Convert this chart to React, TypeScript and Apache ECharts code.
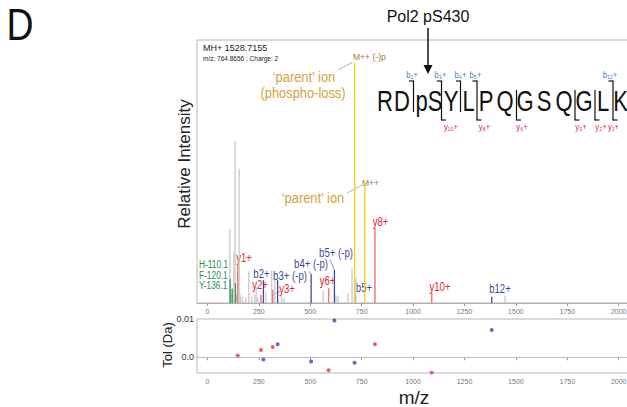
import React, { useEffect, useRef } from "react";
import * as echarts from "echarts";

// ---------- data ----------
const xTicks = [0, 250, 500, 750, 1000, 1250, 1500, 1750, 2000];

// unassigned peaks (m/z, relative intensity %)
const grayMz = [108.5, 115, 124, 128, 134, 140, 154, 160, 170, 185, 201, 215, 229, 237, 245, 284, 312, 328, 360, 372, 563, 625, 636, 683, 703, 722, 1447];
const grayInt = [28, 3, 3.5, 19, 61.5, 3, 51, 3, 2.5, 2, 12, 2.5, 3, 6, 2, 4, 12.5, 8.7, 3, 2, 4.7, 3, 2.5, 3.8, 13, 9.5, 2.7];

// immonium ions
const immoniumNames = ["H-110.1", "F-120.1", "Y-136.1"];
const immoniumMz = [110.1, 120.1, 136.1];
const immoniumInt = [9, 5.5, 7.6];

// y ions
const yNames = ["y1+", "y2+", "y3+", "y6+", "y8+", "y10+"];
const yMz = [147.1, 260.2, 317.2, 589.3, 814.4, 1090.6];
const yInt = [15, 3, 5, 5.6, 28.4, 3.9];

// b ions
const bNames = ["b2+", "b3+ (-p)", "b4+ (-p)", "b5+ (-p)", "b5+", "b12+"];
const bMz = [272.1, 341.2, 504.2, 617.3, 715.3, 1382.6];
const bInt = [8.7, 8.7, 10.9, 12.5, 2.4, 2.4];

// precursor ions
const precursorNames = ["M++ (-)p", "M++"];
const precursorMz = [715.9, 764.9];
const precursorInt = [91.3, 45.5];

// mass error (Da) of matched fragments
const tolYMz = [147.1, 260.2, 317.2, 589.3, 814.4, 1090.6];
const tolY = [0.00045, 0.0019, 0.0027, -0.0034, 0.0034, -0.004];
const tolBMz = [272.1, 341.2, 504.2, 617.3, 715.3, 1382.6];
const tolB = [-0.0006, 0.0034, -0.0011, 0.0096, -0.0014, 0.0071];

const peptide = ["R", "D", "pS", "Y", "L", "P", "Q", "G", "S", "Q", "G", "L", "K"];
const bLabels = ["b₂+", "b₃+", "b₄+", "b₅+", "b₁₂+"];
const yLabels = ["y₁₀+", "y₈+", "y₆+", "y₃+", "y₂+", "y₁+"];

// ---------- styles / layout ----------
const FONT = '"Liberation Sans", Arial, sans-serif';
const GRAY = "#cccccc";
const GREEN = "#2f9a50";
const RED = "#ee7a7a";
const BLUE = "#3c4c9c";
const YELLOW = "#f7d01c";
const RED_TXT = "#e2262b";
const BLUE_TXT = "#3b4a9b";
const GREEN_TXT = "#2e8a4c";
const GOLD = "#d6a13c";
const BROWN = "#9c7a3c";
const PEP_B = "#3d7cc4";

const zip = (a: number[], b: number[]) => a.map((v, i) => [v, b[i]]);

function stickSeries(data: number[][], color: string, width = 1.3) {
  return {
    type: "custom",
    xAxisIndex: 0,
    yAxisIndex: 0,
    encode: { x: 0, y: 1 },
    data,
    renderItem: (params: any, api: any) => {
      const x = api.value(0);
      const y = api.value(1);
      const p0 = api.coord([x, 0]);
      const p1 = api.coord([x, y]);
      return {
        type: "line",
        shape: { x1: p0[0], y1: p0[1], x2: p1[0], y2: p1[1] },
        style: { stroke: color, lineWidth: width },
      };
    },
  };
}

function txt(text: string, x: number, y: number, size: number, fill: string, align = "center", sx = 1, rotation = 0) {
  return {
    type: "text",
    x,
    y,
    rotation,
    scaleX: sx,
    style: {
      text,
      fill,
      font: `${size}px ${FONT}`,
      textAlign: align,
      align,
      textVerticalAlign: "middle",
      verticalAlign: "middle",
    },
  };
}

function seg(x1: number, y1: number, x2: number, y2: number, stroke: string, lineWidth = 0.8) {
  return { type: "line", shape: { x1, y1, x2, y2 }, style: { stroke, lineWidth } };
}

// ion label anchor positions (pixel)
const ionLabelPos: Record<string, [number, number]> = {
  "y1+": [244, 258],
  "y2+": [260, 285],
  "y3+": [287, 289],
  "y6+": [327.5, 281],
  "y8+": [380.5, 222],
  "y10+": [440, 287],
  "b2+": [261.5, 273.5],
  "b3+ (-p)": [290, 276],
  "b4+ (-p)": [311, 264],
  "b5+ (-p)": [336, 253],
  "b5+": [364, 288],
  "b12+": [500, 289],
};
const immoniumPos = [264, 275, 285];

// peptide layout
const pepX = [385, 402, 429, 451, 468.5, 486, 505, 525, 544, 564, 584, 603, 620.5];
const cleavages = [
  { x: 413.5, b: 0, bx: 412, y: -1, yx: 0 },
  { x: 441.5, b: 1, bx: 440.5, y: 0, yx: 451 },
  { x: 460.5, b: 2, bx: 460.5, y: -1, yx: 0 },
  { x: 477, b: 3, bx: 475.5, y: 1, yx: 484.5 },
  { x: 516.5, b: -1, bx: 0, y: 2, yx: 522 },
  { x: 575, b: -1, bx: 0, y: 3, yx: 581 },
  { x: 595, b: -1, bx: 0, y: 4, yx: 601 },
  { x: 613, b: 4, bx: 610, y: 5, yx: 613.5 },
];

function buildGraphics() {
  const g: any[] = [];
  g.push(txt("D", 20, 25, 44, "#111", "center", 0.85));
  g.push(txt("Pol2 pS430", 428, 16, 16, "#111"));
  g.push(seg(428, 28, 428, 68, "#111", 1.5));
  g.push({ type: "polygon", shape: { points: [[423.5, 65], [432.5, 65], [428, 74]] }, style: { fill: "#111" } });
  g.push(txt("MH+ 1528.7155", 203, 48, 9, "#222", "left"));
  g.push(txt("m/z: 764.8656 ; Charge: 2", 203, 58.5, 6.5, "#222", "left"));
  g.push(txt("Relative Intensity", 184, 164, 17, "#222", "center", 1, Math.PI / 2));
  g.push(txt("Tol (Da)", 167, 345, 13, "#222", "center", 1, Math.PI / 2));
  g.push(txt("m/z", 414, 397, 19, "#222"));

  // precursor annotations
  g.push(txt("M++ (-)p", 353, 57, 9, BROWN, "left", 0.95));
  g.push(txt("‘parent’ ion", 304, 77, 14, GOLD, "center", 0.92));
  g.push(txt("(phospho-loss)", 303, 93, 14, GOLD, "center", 0.92));
  g.push(seg(338, 70, 353, 62, BROWN, 0.6));
  g.push(txt("M++", 362, 183, 9, BROWN, "left", 0.95));
  g.push(txt("‘parent’ ion", 313, 198, 14, GOLD, "center", 0.92));
  g.push(seg(347, 193, 362, 185, BROWN, 0.6));

  immoniumNames.forEach((n, i) => g.push(txt(n, 199, immoniumPos[i], 11, GREEN_TXT, "left", 0.76)));
  yNames.forEach((n) => { const p = ionLabelPos[n]; g.push(txt(n, p[0], p[1], 12, RED_TXT, "center", 0.8)); });
  bNames.forEach((n) => { const p = ionLabelPos[n]; g.push(txt(n, p[0], p[1], 12, BLUE_TXT, "center", 0.8)); });
  g.push(seg(273, 295, 280, 291, RED_TXT, 0.6));
  g.push(seg(309.5, 271.5, 311.2, 275, BLUE_TXT, 0.6));
  g.push(seg(330, 259.5, 334.4, 270, BLUE_TXT, 0.6));

  // peptide
  peptide.forEach((r, i) => g.push(txt(r, pepX[i], 101, 29, "#111", "center", 0.76)));
  cleavages.forEach((c) => {
    const hasB = c.b >= 0;
    const hasY = c.y >= 0;
    const top = hasB ? 81 : 90;
    const bot = hasY ? 120 : 112;
    g.push(seg(c.x, top, c.x, bot, "#111", 1.2));
    if (hasB) {
      g.push(seg(c.x - 4.5, top, c.x + 0.6, top, "#111", 1.2));
      g.push(txt(bLabels[c.b], c.bx, 75.5, 8.5, PEP_B, "center", 0.9));
    }
    if (hasY) {
      g.push(seg(c.x - 0.6, bot, c.x + 4.5, bot, "#111", 1.2));
      g.push(txt(yLabels[c.y], c.yx, 127, 8.5, RED_TXT, "center", 0.9));
    }
  });
  return g;
}

export default function App() {
  const ref = useRef<HTMLDivElement>(null);
  useEffect(() => {
    if (!ref.current) return;
    const chart = echarts.init(ref.current, undefined, { renderer: "svg" });
    const xMin = -51;
    const xMax = 2089;
    const xAxisBase = (gridIndex: number) => ({
      type: "value",
      gridIndex,
      min: xMin,
      max: xMax,
      axisLine: { show: true, lineStyle: { color: "#b0b0b0", width: 1 } },
      axisTick: { show: true, customValues: xTicks, length: 3, lineStyle: { color: "#999" } },
      axisLabel: {
        customValues: xTicks,
        formatter: (v: number) => String(v),
        fontSize: 7,
        color: "#777",
        margin: 5,
        fontFamily: FONT,
      },
      splitLine: { show: false },
    });
    chart.setOption({
      animation: false,
      grid: [
        { left: 197, top: 40, width: 440, height: 263, show: true, borderColor: "#b5b5b5", borderWidth: 1, outerBoundsMode: "none", containLabel: false },
        { left: 197, top: 319, width: 440, height: 54, show: true, borderColor: "#b5b5b5", borderWidth: 1, outerBoundsMode: "none", containLabel: false },
      ],
      xAxis: [xAxisBase(0), xAxisBase(1)],
      yAxis: [
        { type: "value", gridIndex: 0, min: 0, max: 100, show: false },
        {
          type: "value",
          gridIndex: 1,
          min: -0.0041,
          max: 0.01,
          axisLine: { show: false },
          axisTick: { show: false },
          splitLine: { show: false },
          axisLabel: {
            customValues: [0, 0.01],
            formatter: (v: number) => (v === 0 ? "0.0" : "0.01"),
            fontSize: 9,
            color: "#333",
            margin: 3,
            fontFamily: FONT,
          },
        },
      ],
      series: [
        stickSeries(zip(grayMz, grayInt), GRAY, 1.4),
        stickSeries(zip(immoniumMz, immoniumInt), GREEN, 1.3),
        stickSeries(zip(yMz, yInt), RED, 1.5),
        stickSeries(zip(bMz, bInt), BLUE, 1.3),
        stickSeries(zip(precursorMz, precursorInt), YELLOW, 1.4),
        {
          type: "scatter",
          xAxisIndex: 1,
          yAxisIndex: 1,
          data: zip(tolYMz, tolY),
          symbolSize: 4,
          itemStyle: { color: "#e53a3a" },
          markLine: {
            silent: true,
            symbol: "none",
            data: [{ yAxis: 0 }],
            lineStyle: { color: "#bdbdbd", type: "solid", width: 1 },
            label: { show: false },
          },
        },
        {
          type: "scatter",
          xAxisIndex: 1,
          yAxisIndex: 1,
          data: zip(tolBMz, tolB),
          symbolSize: 4,
          itemStyle: { color: "#3a4aa0" },
        },
      ],
      graphic: buildGraphics(),
    });
    return () => chart.dispose();
  }, []);
  return <div ref={ref} style={{ position: "fixed", left: 0, top: 0, width: 627, height: 407, background: "#fff" }} />;
}
